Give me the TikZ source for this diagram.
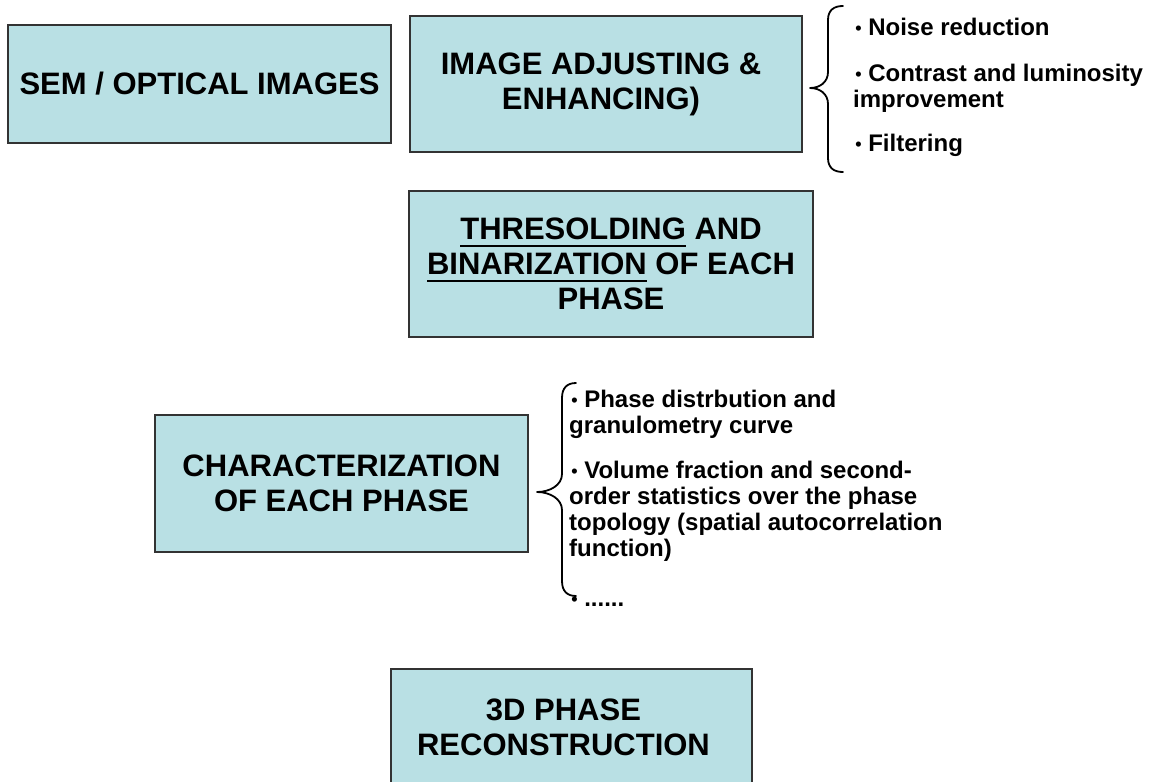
\documentclass[tikz,border=0pt]{standalone}
\usepackage{fontspec}
\setmainfont{Liberation Sans}
\definecolor{boxfill}{RGB}{185,224,228}
\newcommand\ulbox[1]{\setbox0\hbox{#1}\rlap{\rule[-7.5pt]{\wd0}{2.3pt}}\box0\relax}
\newcommand\bul{\makebox[8.4pt][r]{\raisebox{1pt}{\fontsize{18}{18}\selectfont •}}}
\tikzset{
  stepbox/.style={draw=black!80, line width=1.3pt, fill=boxfill, align=center,
    inner sep=0pt, font=\fontsize{31}{35}\selectfont\bfseries},
  bullets/.style={align=left, inner sep=0pt, anchor=north west,
    font=\fontsize{24}{26}\selectfont\bfseries},
  bracepath/.style={draw=black, line width=1.8pt, line cap=round, line join=round}
}
\begin{document}
\begin{tikzpicture}[x=1pt,y=-1pt]
\useasboundingbox (0,0) rectangle (1152,782);
\clip (0,0) rectangle (1152,782);
\fill[white] (0,0) rectangle (1152,782);

\node[stepbox, minimum width=383pt, minimum height=118pt] (sem) at (199.5,84)
  {SEM / OPTICAL IMAGES};
\node[stepbox, minimum width=392pt, minimum height=136pt] (adj) at (606,84)
  {IMAGE ADJUSTING \&\hspace*{10pt}\\ENHANCING)\hspace*{10pt}};
\node[stepbox, minimum width=404pt, minimum height=146pt] (thr) at (611,264)
  {\ulbox{THRESOLDING} AND\\\ulbox{BINARIZATION} OF EACH\\PHASE};
\node[stepbox, minimum width=373pt, minimum height=137pt] (chr) at (341.5,483.5)
  {CHARACTERIZATION\\OF EACH PHASE};
\node[stepbox, minimum width=361pt, minimum height=117pt] (rec) at (571.5,727.5)
  {3D PHASE\hspace*{16pt}\\RECONSTRUCTION\hspace*{16pt}};

% upper brace and list
\coordinate (b1tip) at (810,88);
\draw[bracepath] (843,6) .. controls (834,6) and (828,10) .. (828,20) -- (828,72)
  .. controls (828,82) and (820,88) .. (b1tip)
  .. controls (820,88) and (828,94) .. (828,104) -- (828,158)
  .. controls (828,168) and (834,172) .. (843,172);
\node[bullets] (l1) at (853,18)
  {\bul\ Noise reduction\\[20pt]
   \bul\ Contrast and luminosity\\improvement\\[18pt]
   \bul\ Filtering};

% lower brace and list
\coordinate (b2tip) at (537,492);
\draw[bracepath] (576,383) .. controls (567,383) and (562,388) .. (562,398) -- (562,474)
  .. controls (562,485) and (550,492) .. (b2tip)
  .. controls (550,492) and (562,499) .. (562,510) -- (562,581)
  .. controls (562,591) and (567,596) .. (576,596);
\node[bullets] (l2) at (569,390)
  {\bul\ Phase distrbution and\\granulometry curve\\[19pt]
   \bul\ Volume fraction and second-\\order statistics over the phase\\topology (spatial autocorrelation\\function)\\[24pt]
   \bul\ ......};
\end{tikzpicture}
\end{document}
